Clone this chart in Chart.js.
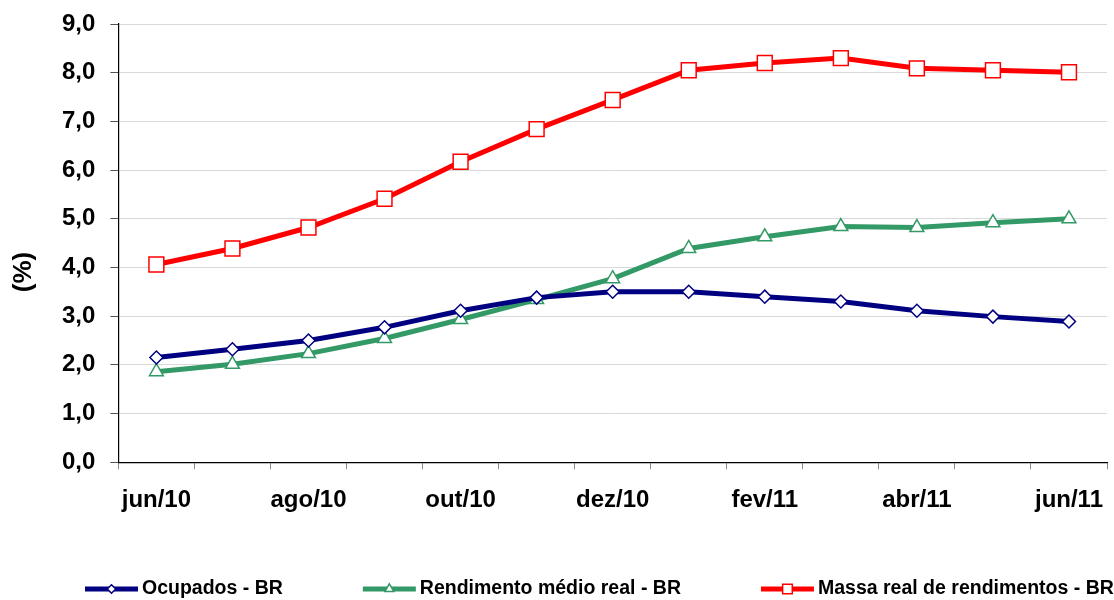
<!DOCTYPE html>
<html>
<head>
<meta charset="utf-8">
<script src="https://cdn.jsdelivr.net/npm/chart.js@4.4.1/dist/chart.umd.min.js"></script>
<style>
  html, body { margin: 0; padding: 0; background: #fff; }
  #wrap { width: 1114px; height: 600px; }
</style>
</head>
<body>
<div id="wrap"><canvas id="chart" width="1114" height="600"></canvas></div>
<script>
// meses (jun/10 a jun/11)
const months = ['jun/10', 'jul/10', 'ago/10', 'set/10', 'out/10', 'nov/10', 'dez/10',
                'jan/11', 'fev/11', 'mar/11', 'abr/11', 'mai/11', 'jun/11'];

const ocupados   = [2.15, 2.32, 2.50, 2.77, 3.11, 3.38, 3.50, 3.50, 3.40, 3.30, 3.11, 2.99, 2.89];
const rendimento = [1.86, 2.01, 2.23, 2.54, 2.93, 3.34, 3.77, 4.39, 4.63, 4.84, 4.82, 4.92, 5.00];
const massa      = [4.06, 4.39, 4.82, 5.41, 6.17, 6.84, 7.44, 8.05, 8.20, 8.30, 8.09, 8.05, 8.01];

const yTicks = [0, 1, 2, 3, 4, 5, 6, 7, 8, 9];

const FONT = '"Liberation Sans", Arial, sans-serif';

// legenda desenhada à mão (linha + marcador, como no Excel)
const legendPlugin = {
    id: 'excelLegend',
    afterDraw(chart) {
        const c = chart.ctx;
        const y = 589;
        let x = 85;
        c.save();
        c.font = 'bold 19.5px ' + FONT;
        c.textBaseline = 'middle';
        chart.data.datasets.forEach(ds => {
            c.strokeStyle = ds.borderColor;
            c.lineWidth = 5;
            c.beginPath();
            c.moveTo(x, y);
            c.lineTo(x + 53, y);
            c.stroke();
            c.fillStyle = '#fff';
            c.strokeStyle = ds.pointBorderColor;
            c.lineWidth = 1.5;
            c.beginPath();
            drawShape(c, ds.pointStyle, ds.pointRadius * 0.65, x + 26.5, y);
            c.fill();
            c.stroke();
            c.fillStyle = '#000';
            c.fillText(ds.label, x + 57, y);
            x += 57 + c.measureText(ds.label).width + 80;
        });
        // título do eixo Y
        c.translate(24, 272);
        c.rotate(-Math.PI / 2);
        c.textAlign = 'center';
        c.font = 'bold 26px ' + FONT;
        c.fillText('(%)', 0, 0);
        c.restore();
    }
};

function drawShape(c, style, r, x, y) {
    if (style === 'rect') {
        const s = Math.SQRT1_2 * r;
        c.rect(x - s, y - s, 2 * s, 2 * s);
    } else if (style === 'rectRot') {
        c.moveTo(x, y - r); c.lineTo(x + r, y); c.lineTo(x, y + r); c.lineTo(x - r, y); c.closePath();
    } else {
        const h = r * Math.sqrt(3) / 2;
        c.moveTo(x, y - r); c.lineTo(x + h, y + r / 2); c.lineTo(x - h, y + r / 2); c.closePath();
    }
}

new Chart(document.getElementById('chart').getContext('2d'), {
    type: 'line',
    data: {
        labels: months,
        datasets: [{
            label: 'Ocupados - BR',
            data: ocupados,
            borderColor: '#000080',
            borderWidth: 5,
            pointStyle: 'rectRot',
            pointRadius: 6.5,
            pointBackgroundColor: '#fff',
            pointBorderColor: '#000080',
            pointBorderWidth: 1.5,
            tension: 0
        }, {
            label: 'Rendimento médio real - BR',
            data: rendimento,
            borderColor: '#339966',
            borderWidth: 5,
            pointStyle: 'triangle',
            pointRadius: 8,
            pointBackgroundColor: '#fff',
            pointBorderColor: '#339966',
            pointBorderWidth: 1.5,
            tension: 0
        }, {
            label: 'Massa real de rendimentos - BR',
            data: massa,
            borderColor: '#ff0000',
            borderWidth: 5,
            pointStyle: 'rect',
            pointRadius: 10.5,
            pointBackgroundColor: '#fff',
            pointBorderColor: '#ff0000',
            pointBorderWidth: 1.5,
            tension: 0
        }]
    },
    options: {
        responsive: false,
        animation: false,
        // autoPadding desligado: o overflow dos marcadores não deve encolher a área
        layout: { autoPadding: false, padding: { left: 47, top: 24, right: 7, bottom: 68 } },
        plugins: {
            legend: { display: false },
            tooltip: { enabled: false }
        },
        scales: {
            x: {
                offset: true,
                afterFit: s => { s.paddingLeft = 0; s.paddingRight = 0; },
                grid: {
                    offset: true,
                    drawOnChartArea: false,
                    drawTicks: true,
                    tickLength: 7,
                    tickColor: '#888'
                },
                border: { color: '#000', width: 1.2 },
                ticks: {
                    autoSkip: false,
                    maxRotation: 0,
                    padding: 17,
                    color: '#000',
                    font: { family: FONT, size: 24, weight: 'bold' },
                    callback: (v, i) => (i % 2 === 0 ? months[i] : '')
                }
            },
            y: {
                min: 0,
                max: 9,
                afterFit: s => { s.paddingTop = 0; s.paddingBottom = 0; },
                afterBuildTicks: axis => { axis.ticks = yTicks.map(v => ({ value: v })); },
                grid: {
                    color: '#d9d9d9',
                    tickColor: '#555',
                    tickLength: 8
                },
                border: { color: '#000', width: 1.2 },
                ticks: {
                    padding: 15,
                    color: '#000',
                    font: { family: FONT, size: 24, weight: 'bold' },
                    callback: v => v.toFixed(1).replace('.', ',')
                }
            }
        }
    },
    plugins: [legendPlugin]
});
</script>
</body>
</html>
